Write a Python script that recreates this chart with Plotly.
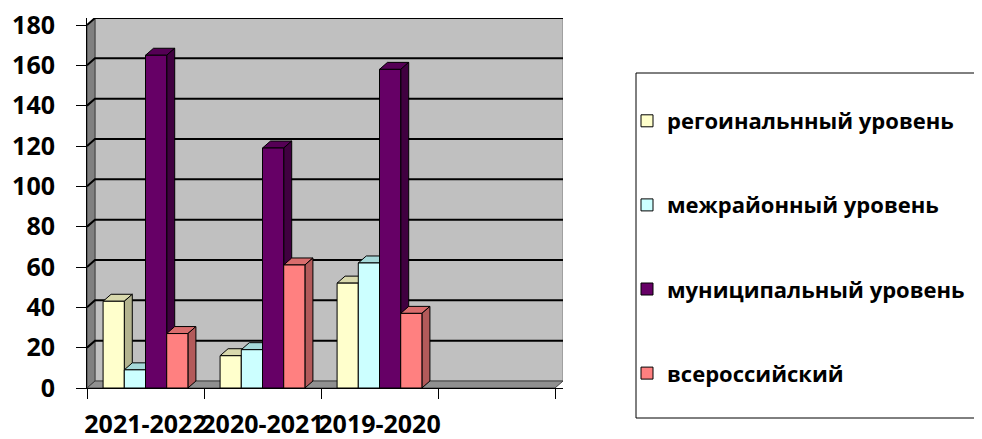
import plotly.graph_objects as go

categories = ["2021-2022", "2020-2021", "2019-2020", " "]
series_names = ["регоинальнный уровень", "межрайонный уровень", "муниципальный уровень", "всероссийский"]
regional = [43, 16, 52]
interdistrict = [9, 19, 62]
municipal = [165, 119, 158]
allrussian = [27, 61, 37]
y_ticks = [0, 20, 40, 60, 80, 100, 120, 140, 160, 180]

front_colors = ["#FFFFCC", "#CCFFFF", "#660066", "#FF8080"]
top_colors = ["#D9D9AD", "#A6D9D9", "#550055", "#D96D6D"]
side_colors = ["#B3B38F", "#8FB3B3", "#400040", "#B35A5A"]

series = [regional, interdistrict, municipal, allrussian]

# the page body adds an 8px margin; compensate so the picture lines up with the window
OFF = 8
W, H = 982 - OFF, 439 - OFF
plot_left, plot_right, plot_top, plot_bottom = 87 - OFF, 563 - OFF, 18 - OFF, 388 - OFF
ML, MR, MT, MB = plot_left, W - plot_right, plot_top, H - plot_bottom
plot_w = plot_right - plot_left
plot_h = plot_bottom - plot_top
DEPTH_X_PX, DEPTH_Y_PX = 8, 7
n_cat = len(categories)
ppu_x = (plot_w - DEPTH_X_PX) / n_cat
dx = DEPTH_X_PX / ppu_x
ymax = y_ticks[-1]
ppu_y = (plot_h - DEPTH_Y_PX) / ymax
dy = DEPTH_Y_PX / ppu_y

gap = 0.275
bw = (1 - gap) / 4

fig = go.Figure()
shapes = []

# walls
x_left, x_right = -0.5, n_cat - 0.5
shapes.append(dict(type="rect", xref="x", yref="y", x0=x_left + dx, x1=x_right + dx, y0=dy, y1=ymax + dy,
                   fillcolor="#C0C0C0", line=dict(color="#808080", width=1), layer="below"))
shapes.append(dict(type="path", xref="x", yref="y",
                   path=f"M{x_left},0 L{x_left},{ymax} L{x_left+dx},{ymax+dy} L{x_left+dx},{dy} Z",
                   fillcolor="#808080", line=dict(color="#404040", width=1), layer="below"))
shapes.append(dict(type="path", xref="x", yref="y",
                   path=f"M{x_left},0 L{x_left+dx},{dy} L{x_right+dx},{dy} L{x_right},0 Z",
                   fillcolor="#909090", line=dict(color="#404040", width=1), layer="below"))
for t in y_ticks[1:]:
    shapes.append(dict(type="path", xref="x", yref="y",
                       path=f"M{x_left},{t} L{x_left+dx},{t+dy} L{x_right+dx},{t+dy}",
                       line=dict(color="#000000", width=2), layer="below"))

for k, vals in enumerate(series):
    xs = categories[:len(vals)]
    fig.add_trace(go.Bar(
        x=xs, y=vals, name=series_names[k], legendgroup=str(k),
        width=bw, offset=-(1 - gap) / 2 + k * bw,
        marker=dict(color=front_colors[k], line=dict(color="#000000", width=1)),
    ))
    for i, v in enumerate(vals):
        x0 = i - (1 - gap) / 2 + k * bw
        x1 = x0 + bw
        shapes.append(dict(type="path", xref="x", yref="y",
                           path=f"M{x0},{v} L{x0+dx},{v+dy} L{x1+dx},{v+dy} L{x1},{v} Z",
                           fillcolor=top_colors[k], line=dict(color="#000000", width=1), layer="between"))
        shapes.append(dict(type="path", xref="x", yref="y",
                           path=f"M{x1},0 L{x1+dx},{dy} L{x1+dx},{v+dy} L{x1},{v} Z",
                           fillcolor=side_colors[k], line=dict(color="#000000", width=1), layer="between"))

# legend frame (extends past right edge as in the reference)
def px_x(p):
    return (p - OFF - plot_left) / plot_w

def px_y(p):
    return (plot_bottom - (p - OFF)) / plot_h

shapes.append(dict(type="rect", xref="paper", yref="paper",
                   x0=px_x(636), x1=px_x(1000), y0=px_y(418), y1=px_y(73),
                   line=dict(color="#000000", width=1), fillcolor="rgba(0,0,0,0)", layer="above"))

font_family = "Open Sans, DejaVu Sans, sans-serif"

fig.update_layout(
    width=W, height=H,
    margin=dict(l=ML, r=MR, t=MT, b=MB, autoexpand=False),
    paper_bgcolor="white", plot_bgcolor="white",
    barmode="group",
    showlegend=True,
    legend=dict(x=px_x(627), y=px_y(100), xanchor="left", yanchor="top",
                font=dict(family=font_family, size=22, color="#000000", weight="bold"),
                tracegroupgap=52.5, bgcolor="rgba(0,0,0,0)", borderwidth=0),
    shapes=shapes,
    font=dict(family=font_family, color="#000000"),
)
fig.update_xaxes(
    type="category", categoryorder="array", categoryarray=categories,
    range=[x_left, x_right + dx], tickson="boundaries", tickangle=0,
    showgrid=False, showline=True, linecolor="#000000", linewidth=1,
    ticks="outside", ticklen=10, tickcolor="#000000",
    tickfont=dict(family=font_family, size=25, color="#000000", weight="bold"),
    ticklabelstandoff=14, ticklabeloverflow="allow", fixedrange=True,
)
fig.update_yaxes(
    range=[0, ymax + dy], tickvals=y_ticks,
    showgrid=False, zeroline=False, showline=True, linecolor="#000000", linewidth=1,
    ticks="outside", ticklen=10, tickcolor="#000000",
    tickfont=dict(family=font_family, size=25, color="#000000", weight="bold"),
    ticklabelstandoff=16, ticklabeloverflow="allow", fixedrange=True,
)

fig.write_html("out.html")
